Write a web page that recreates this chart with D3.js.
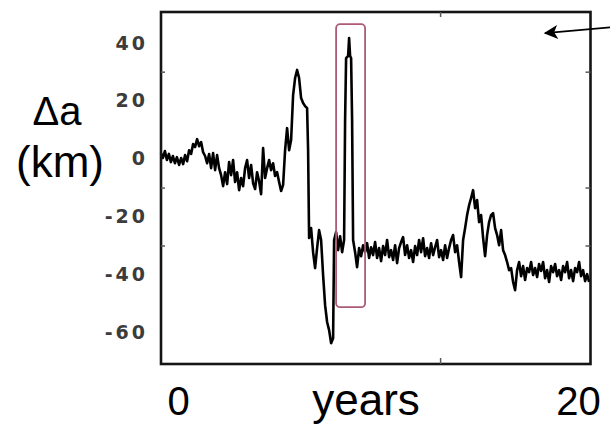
<!DOCTYPE html>
<html>
<head>
<meta charset="utf-8">
<script src="https://cdn.jsdelivr.net/npm/d3@7"></script>
<style>
    body { margin: 0; background: #fff; }
    svg { display: block; }
</style>
</head>
<body>
<svg id="chartSvg" width="610" height="440"></svg>
<script>
{
    // plot frame in pixels
    var frame = {left: 161, right: 590.5, top: 12, bottom: 364};

    // visible extent of the axes, in data units
    var xExtent = [-0.875, 20.6];      // years
    var yExtent = [-70.9, 50.6];       // km

    var yTickLabels = [40, 20, 0, -20, -40, -60];
    var yTickMarks = [30, -10, -30];
    var xTickMarks = [13.08];
    var xEndLabels = [0, 20];

    // highlighted window around the spike: [year0, year1], [km0, km1]
    var boxYears = [7.88, 9.33];
    var boxKm = [-51.3, 46.4];

    // arrow pointing into the empty top-right corner: [tail, tip]
    var arrowYears = [21.7, 18.33];
    var arrowKm = [45.4, 43.3];

    // semi-major axis change Δa (km) against time (years)
    var series = [
        [-0.88, 1.9], [-0.78, 0.2], [-0.68, 2.6], [-0.58, -0.5], [-0.48, 1.6], [-0.38, -1.2],
        [-0.28, 0.9], [-0.18, -1.6], [-0.08, 0.5], [0.03, -2.2], [0.13, 0.2], [0.23, -1.9],
        [0.33, 1.2], [0.43, -0.9], [0.53, 2.9], [0.63, 1.6], [0.73, 5.0], [0.83, 4.0],
        [0.93, 6.7], [1.03, 4.3], [1.13, 5.7], [1.23, 2.2], [1.33, 0.9], [1.43, -1.6],
        [1.53, 1.6], [1.63, -3.3], [1.73, 1.9], [1.83, -4.0], [1.93, 1.2], [2.03, -3.3],
        [2.13, -5.7], [2.23, -9.5], [2.33, -4.7], [2.43, -8.8], [2.53, -1.2], [2.63, -5.7],
        [2.73, -0.5], [2.83, -8.1], [2.93, -4.7], [3.03, -10.9], [3.13, -6.7], [3.23, -9.5],
        [3.33, -3.3], [3.43, -0.5], [3.53, -6.7], [3.63, -2.2], [3.73, -8.5], [3.83, -10.5],
        [3.93, -4.7], [4.03, -7.8], [4.13, -12.3], [4.23, 3.6], [4.33, -6.7], [4.43, -3.3],
        [4.53, -0.5], [4.63, -4.0], [4.73, -1.6], [4.83, -6.0], [4.93, -4.7], [5.03, -8.1],
        [5.13, -11.2], [5.23, -9.1], [5.33, 2.9], [5.43, 10.5], [5.53, 2.9], [5.63, 6.4],
        [5.73, 21.9], [5.83, 27.8], [5.93, 30.6], [6.03, 27.8], [6.13, 20.9], [6.23, 19.2],
        [6.33, 18.1], [6.43, 17.4], [6.48, 2.9], [6.53, -27.4], [6.63, -24.0], [6.73, -32.3],
        [6.83, -37.8], [6.93, -30.9], [7.03, -24.7], [7.13, -28.1], [7.23, -40.2], [7.33, -50.6],
        [7.43, -56.4], [7.53, -59.2], [7.63, -63.7], [7.73, -62.0], [7.78, -28.1], [7.88, -25.4],
        [7.98, -31.6], [8.08, -26.8], [8.18, -32.3], [8.28, -28.1], [8.33, 13.3], [8.38, 34.7],
        [8.48, 35.4], [8.53, 41.6], [8.58, 35.4], [8.63, 34.7], [8.68, 13.3], [8.73, -28.1],
        [8.83, -32.3], [8.93, -37.5], [9.03, -30.9], [9.13, -33.7], [9.23, -29.9], [9.33, -32.3],
        [9.43, -29.2], [9.53, -34.3], [9.63, -30.6], [9.73, -33.3], [9.83, -28.8], [9.93, -34.3],
        [10.03, -30.9], [10.13, -35.4], [10.23, -30.2], [10.33, -33.3], [10.43, -28.1], [10.53, -34.0],
        [10.63, -31.6], [10.73, -35.0], [10.83, -29.9], [10.93, -36.1], [11.03, -30.9], [11.13, -28.8],
        [11.23, -27.1], [11.33, -33.3], [11.43, -29.9], [11.53, -34.3], [11.63, -31.6], [11.73, -35.7],
        [11.83, -30.2], [11.93, -33.3], [12.03, -28.1], [12.13, -32.3], [12.23, -27.5], [12.33, -33.7],
        [12.43, -30.9], [12.53, -34.3], [12.63, -29.2], [12.73, -33.3], [12.83, -30.6], [12.93, -28.1],
        [13.03, -34.0], [13.13, -31.6], [13.23, -35.0], [13.33, -29.9], [13.43, -34.3], [13.53, -30.9],
        [13.63, -28.1], [13.73, -26.4], [13.83, -32.3], [13.93, -29.9], [14.03, -35.7], [14.13, -40.9],
        [14.23, -28.1], [14.33, -24.0], [14.43, -19.5], [14.53, -16.1], [14.63, -13.6], [14.73, -10.9],
        [14.83, -17.1], [14.93, -14.3], [15.03, -21.9], [15.13, -19.5], [15.23, -27.4], [15.33, -33.7],
        [15.43, -26.4], [15.53, -21.9], [15.63, -19.5], [15.73, -18.8], [15.83, -24.0], [15.93, -26.4],
        [16.03, -29.9], [16.13, -24.7], [16.23, -31.6], [16.33, -33.3], [16.43, -35.7], [16.53, -38.5],
        [16.63, -37.8], [16.73, -42.6], [16.83, -45.4], [16.93, -38.5], [17.03, -35.7], [17.13, -40.6],
        [17.23, -37.1], [17.33, -41.9], [17.43, -37.8], [17.53, -39.2], [17.63, -35.7], [17.73, -40.2],
        [17.83, -37.8], [17.93, -40.9], [18.03, -36.4], [18.13, -38.8], [18.23, -35.7], [18.33, -41.3],
        [18.43, -38.5], [18.53, -42.6], [18.63, -37.1], [18.73, -39.2], [18.83, -36.4], [18.93, -40.6],
        [19.03, -38.5], [19.13, -41.9], [19.23, -37.1], [19.33, -39.2], [19.43, -35.7], [19.53, -41.3],
        [19.63, -38.5], [19.73, -42.3], [19.83, -37.8], [19.93, -39.2], [20.03, -35.7], [20.13, -40.6],
        [20.23, -38.5], [20.33, -42.3], [20.43, -39.9], [20.53, -42.6]
    ];

    var palette = {
        line: "#000000",
        frame: "#151515",
        tick: "#5a5a5a",
        tickLabel: "#3c3c3c",
        box: "#ad5a74",
        text: "#000000",
    };

    var svg = d3.select("#chartSvg");

    var xScale = d3.scaleLinear()
        .domain(xExtent)
        .range([frame.left, frame.right]);

    var yScale = d3.scaleLinear()
        .domain(yExtent)
        .range([frame.bottom, frame.top]);

    /**
     * Data line
     */
    var line = d3.line()
        .x(d => xScale(d[0]))
        .y(d => yScale(d[1]));

    svg.append("path")
        .datum(series)
        .attr("d", line)
        .attr("fill", "none")
        .attr("stroke", palette.line)
        .attr("stroke-width", 2.6)
        .attr("stroke-linejoin", "round");

    /**
     * Highlight box round the spike
     */
    svg.append("rect")
        .attr("x", xScale(boxYears[0]))
        .attr("y", yScale(boxKm[1]))
        .attr("width", xScale(boxYears[1]) - xScale(boxYears[0]))
        .attr("height", yScale(boxKm[0]) - yScale(boxKm[1]))
        .attr("rx", 4)
        .attr("fill", "none")
        .attr("stroke", palette.box)
        .attr("stroke-width", 1.8);

    /**
     * Frame with small inward ticks
     */
    svg.append("rect")
        .attr("x", frame.left)
        .attr("y", frame.top)
        .attr("width", frame.right - frame.left)
        .attr("height", frame.bottom - frame.top)
        .attr("fill", "none")
        .attr("stroke", palette.frame)
        .attr("stroke-width", 2.6);

    var leftTicks = svg.append("g")
        .attr("transform", `translate(${frame.left},0)`)
        .call(d3.axisRight(yScale).tickValues(yTickMarks).tickSize(4).tickFormat(""));
    var rightTicks = svg.append("g")
        .attr("transform", `translate(${frame.right},0)`)
        .call(d3.axisLeft(yScale).tickValues(yTickMarks).tickSize(5).tickFormat(""));
    var topTicks = svg.append("g")
        .attr("transform", `translate(0,${frame.top})`)
        .call(d3.axisBottom(xScale).tickValues(xTickMarks).tickSize(5).tickFormat(""));
    var bottomTicks = svg.append("g")
        .attr("transform", `translate(0,${frame.bottom})`)
        .call(d3.axisTop(xScale).tickValues(xTickMarks).tickSize(6).tickFormat(""));

    [leftTicks, rightTicks, topTicks, bottomTicks].forEach(g => {
        g.select(".domain").remove();
        g.selectAll("line").attr("stroke", palette.tick).attr("stroke-width", 1.5);
    });

    // tick labels, pasted beside the frame
    svg.append("g")
        .selectAll("text")
        .data(yTickLabels)
        .enter()
        .append("text")
        .attr("x", 148)
        .attr("y", d => yScale(d))
        .attr("dy", "0.36em")
        .attr("text-anchor", "end")
        .attr("font-family", "DejaVu Sans")
        .attr("font-weight", "bold")
        .attr("font-size", 19)
        .attr("letter-spacing", 3)
        .attr("fill", palette.tickLabel)
        .text(d => d);

    /**
     * Big annotation labels
     */
    var bigFont = "Liberation Sans, Arial, sans-serif";

    svg.append("text")
        .attr("x", 57)
        .attr("y", 125)
        .attr("text-anchor", "middle")
        .attr("font-family", bigFont)
        .attr("font-size", 40)
        .attr("fill", palette.text)
        .text("Δa");

    svg.append("text")
        .attr("x", 60)
        .attr("y", 177)
        .attr("text-anchor", "middle")
        .attr("font-family", bigFont)
        .attr("font-size", 44)
        .attr("fill", palette.text)
        .text("(km)");

    svg.append("g")
        .selectAll("text")
        .data(xEndLabels)
        .enter()
        .append("text")
        .attr("x", d => xScale(d))
        .attr("y", 415)
        .attr("text-anchor", "middle")
        .attr("font-family", bigFont)
        .attr("font-size", 40)
        .attr("fill", palette.text)
        .text(d => d);

    svg.append("text")
        .attr("x", 366)
        .attr("y", 415)
        .attr("text-anchor", "middle")
        .attr("font-family", bigFont)
        .attr("font-size", 44)
        .attr("fill", palette.text)
        .text("years");

    /**
     * Arrow
     */
    svg.append("defs").append("marker")
        .attr("id", "head")
        .attr("viewBox", "0 0 10 10")
        .attr("refX", 9)
        .attr("refY", 5)
        .attr("markerWidth", 18)
        .attr("markerHeight", 14)
        .attr("markerUnits", "userSpaceOnUse")
        .attr("orient", "auto")
        .append("path")
        .attr("d", "M0,0 L10,5 L0,10 L2.5,5 Z")
        .attr("fill", palette.text);

    svg.append("line")
        .attr("x1", xScale(arrowYears[0]))
        .attr("y1", yScale(arrowKm[0]))
        .attr("x2", xScale(arrowYears[1]))
        .attr("y2", yScale(arrowKm[1]))
        .attr("stroke", palette.text)
        .attr("stroke-width", 1.8)
        .attr("marker-end", "url(#head)");
};
</script>
</body>
</html>
